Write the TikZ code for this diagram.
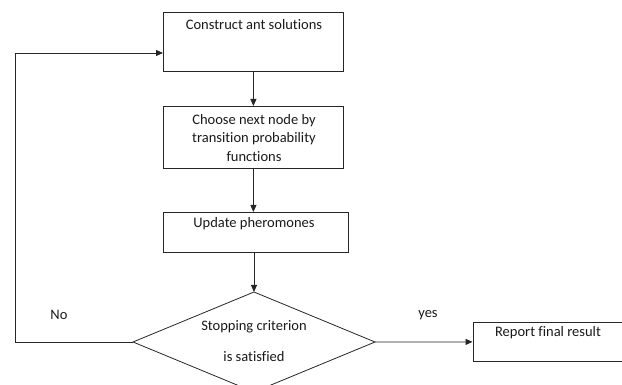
\documentclass[tikz,border=0pt]{standalone}
\usepackage{fontspec}
\setmainfont[Ligatures=NoCommon]{Carlito}
\usetikzlibrary{arrows.meta}
\begin{document}
\begin{tikzpicture}[x=1pt,y=-1pt,
  box/.style={draw=black!85,line width=0.8pt,inner sep=0pt},
  txt/.style={font=\fontsize{14.5}{16}\selectfont,text=black!90,inner sep=0pt},
  conn/.style={draw=black!85,line width=0.8pt,-{Triangle[length=7pt,width=6pt]}},
  plain/.style={draw=black!85,line width=0.8pt}]
\useasboundingbox (0,0) rectangle (622,385);
% boxes
\node[box,minimum width=180pt,minimum height=59pt,anchor=north west] (b1) at (163,12) {};
\node[txt] (t1) at (254,25) {Construct ant solutions};
\node[box,minimum width=180pt,minimum height=62pt,anchor=north west] (b2) at (163,106) {};
\node[txt,align=center] (t2) at (254,138) {Choose next node by\\[2.5pt]transition probability\\[2.5pt]functions};
\node[box,minimum width=185pt,minimum height=40pt,anchor=north west] (b3) at (163,212) {};
\node[txt] (t3) at (254,224) {Update pheromones};
\node[box,minimum width=149pt,minimum height=39pt,anchor=north west] (b4) at (472.5,322) {};
\node[txt] (t4) at (548,333) {Report final result};
% diamond
\coordinate (dt) at (254,292);
\coordinate (dl) at (133,342);
\coordinate (dr) at (375,342);
\coordinate (db) at (254,392);
\draw[plain] (dt) -- (dr) -- (db) -- (dl) -- cycle;
\node[txt] (t5) at (254,327) {Stopping criterion};
\node[txt] (t6) at (254,357) {is satisfied};
% labels
\node[txt] (no) at (59,315) {No};
\node[txt] (yes) at (428,315) {yes};
% connectors
\draw[conn] (b1.south) -- (b2.north);
\draw[conn] (b2.south) -- (b2.south |- b3.north);
\draw[conn] (dt |- b3.south) -- (dt);
\draw[conn] (dr) -- (b4.west);
\coordinate (c1) at (15,342);
\coordinate (c2) at (15,53);
\draw[conn] (dl) -- (c1) -- (c2) -- (c2 -| b1.west);
\end{tikzpicture}
\end{document}
